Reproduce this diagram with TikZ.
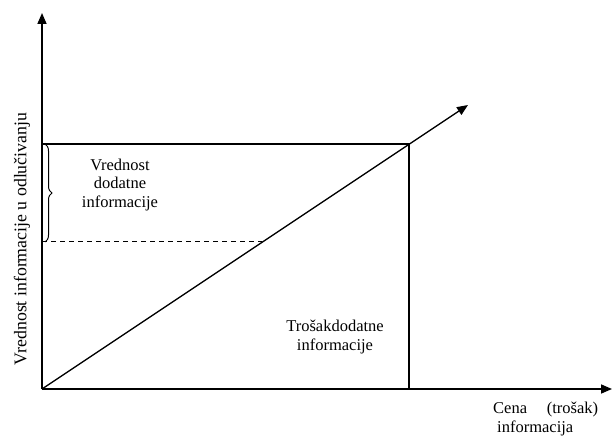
\documentclass[tikz,border=0pt]{standalone}
\usepackage{fontspec}
\setmainfont{Liberation Serif}
\usetikzlibrary{arrows.meta,decorations.pathreplacing}
\begin{document}
\begin{tikzpicture}[x=1bp,y=-1bp,
  axis/.style={line width=1.6bp,-{Triangle[length=11bp,width=9bp]}},
  frame/.style={line width=1.3bp},
  lbl/.style={font=\fontsize{16.5bp}{18.5bp}\selectfont,inner sep=0pt,align=center}]
\useasboundingbox (0,0) rectangle (613,436);
% key points of the plot
\coordinate (O) at (42,389);
\coordinate (ytip) at (42,13);
\coordinate (xtip) at (612,389);
\coordinate (P) at (409,144);
\coordinate (dtip) at (468,105);
\coordinate (L) at (42,144);
\coordinate (D) at (42,242);
\coordinate (Dend) at (262,242);
\coordinate (B) at (409,389);
% axes
\draw[axis] (O) -- (ytip);
\draw[axis] (O) -- (xtip);
% value level, cost line and its projection
\draw[frame] (L) -- (P) -- (B);
\draw[frame,-{Triangle[length=11bp,width=9bp]}] (O) -- (dtip);
\draw[line width=1bp,dash pattern=on 5bp off 4bp] (D) -- (Dend);
% brace marking the added value
\draw[line width=1bp,decorate,decoration={brace,amplitude=7bp}]
  ([xshift=3bp]L) -- ([xshift=3bp]D);
% labels
\node[lbl] (val) at (120,185) {Vrednost\\dodatne\\informacije};
\node[lbl] (cost) at (335,337) {Trošakdodatne\\informacije};
\node[lbl,rotate=90,font=\fontsize{17.8bp}{20bp}\selectfont] (ylab) at (22,239) {Vrednost informacije u odlučivanju};
\node[lbl,align=left,anchor=west] (xlab) at (493,419) {\makebox[105bp][s]{Cena\hfill(trošak)}\\\hspace*{4bp}informacija};
\end{tikzpicture}
\end{document}
